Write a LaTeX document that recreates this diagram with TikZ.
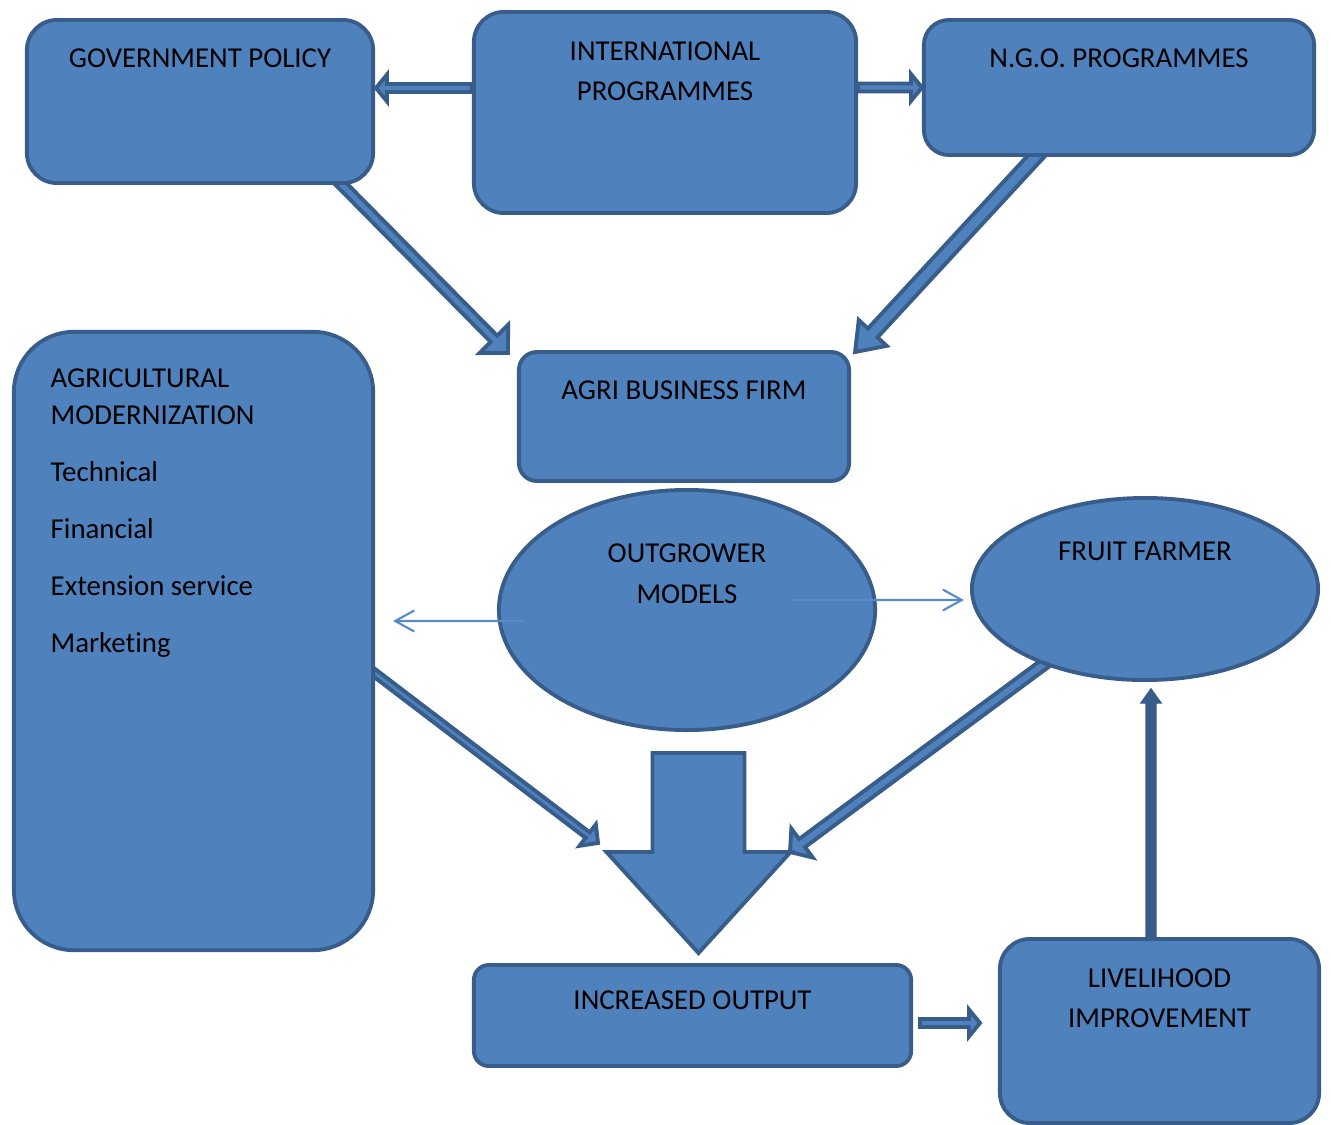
\documentclass[tikz,border=0pt]{standalone}
\usepackage{fontspec}
\setmainfont{Carlito}[Ligatures=NoCommon]
\usetikzlibrary{arrows.meta,calc,backgrounds,shapes.geometric}
\definecolor{boxfill}{HTML}{4F81BD}
\definecolor{boxedge}{HTML}{385D8A}
\definecolor{thinline}{HTML}{5A8AC6}

% block arrow: [options]{from}{to}{half shaft}{half head}{head length}
\newcommand{\fatarrow}[6][]{%
  \coordinate (ba1) at #2;
  \coordinate (ba2) at #3;
  \coordinate (ba3) at ($(ba2)!#6!(ba1)$);
  \draw[blockarrow,#1] ($(ba1)!#4!90:(ba2)$) -- ($(ba3)!#4!90:(ba2)$)
    -- ($(ba3)!#5!90:(ba2)$) -- (ba2) -- ($(ba3)!#5!-90:(ba2)$)
    -- ($(ba3)!#4!-90:(ba2)$) -- ($(ba1)!#4!-90:(ba2)$) -- cycle;}

\begin{document}
\begin{tikzpicture}
  [x=0.01cm,y=-0.01cm,
   box/.style={rectangle,draw=boxedge,fill=boxfill,line width=1.1pt,
               rounded corners=0.3cm,inner sep=0},
   oval/.style={ellipse,draw=boxedge,fill=boxfill,line width=1.1pt,inner sep=0},
   lbl/.style={anchor=north,inner sep=0,align=center,
               font=\fontsize{8.2}{11.3}\selectfont},
   blockarrow/.style={draw=boxedge,fill=boxfill,line width=1.1pt},
   thinarrow/.style={draw=thinline,line width=0.6pt,
                     -{Straight Barb[length=0.19cm,width=0.21cm]}}]
  \useasboundingbox (0,0) rectangle (1331,1124);
  \node[box,minimum width=3.46cm,minimum height=1.63cm,
    label={[lbl,yshift=-0.3cm]north:GOVERNMENT POLICY}] (gov) at (200,101.5) {};
  \node[box,minimum width=3.82cm,minimum height=2.01cm,
    label={[lbl,yshift=-0.31cm]north:INTERNATIONAL\\PROGRAMMES}] (intl) at (665,112.5) {};
  \node[box,minimum width=3.9cm,minimum height=1.35cm,rounded corners=0.25cm,
    label={[lbl,yshift=-0.3cm]north:N.G.O. PROGRAMMES}] (ngo) at (1119,87.5) {};
  \node[box,minimum width=3.59cm,minimum height=6.18cm,rounded corners=0.6cm,
    label={[lbl,anchor=north west,align=left,xshift=0.38cm,yshift=-0.38cm,
      font=\fontsize{8.2}{10.5}\selectfont]north west:AGRICULTURAL\\MODERNIZATION\\[5.7pt]
      Technical\\[5.7pt]Financial\\[5.7pt]Extension service\\[5.7pt]Marketing}]
    (agri) at (193.5,641) {};
  \node[box,minimum width=3.3cm,minimum height=1.29cm,rounded corners=0.18cm,
    label={[lbl,yshift=-0.3cm]north:AGRI BUSINESS FIRM}] (firm) at (684,416.5) {};
  \node[oval,minimum width=3.76cm,minimum height=2.4cm,
    label={[lbl,yshift=-0.55cm,font=\fontsize{8.2}{11.7}\selectfont]north:OUTGROWER\\MODELS}]
    (outg) at (687,610) {};
  \node[oval,minimum width=3.46cm,minimum height=1.82cm,
    label={[lbl,yshift=-0.45cm]north:FRUIT FARMER}] (fruit) at (1145,589) {};
  \node[box,minimum width=4.37cm,minimum height=1.01cm,rounded corners=0.15cm,
    label={[lbl,yshift=-0.27cm]north:INCREASED OUTPUT}] (out) at (692.5,1015.5) {};
  \node[box,minimum width=3.19cm,minimum height=1.84cm,
    label={[lbl,yshift=-0.31cm]north:LIVELIHOOD\\IMPROVEMENT}] (liv) at (1159.5,1031) {};
  \begin{pgfonlayer}{background}
    \fatarrow{([yshift=0.245cm]intl.west)}{([xshift=0.01cm,yshift=0.135cm]gov.east)}{0.04cm}{0.135cm}{0.11cm}
    \fatarrow{([yshift=0.25cm]intl.east)}{(ngo.west)}{0.04cm}{0.135cm}{0.11cm}
    \fatarrow{([xshift=1.37cm,yshift=0.05cm]gov.south)}{([xshift=-0.09cm,yshift=-0.03cm]firm.north west)}{0.045cm}{0.2cm}{0.2cm}
    \fatarrow{([xshift=-0.79cm,yshift=0.05cm]ngo.south)}{([xshift=0.04cm,yshift=-0.02cm]firm.north east)}{0.065cm}{0.19cm}{0.26cm}
    \fatarrow{([xshift=-0.03cm,yshift=-0.3cm]agri.east)}{([xshift=1.26cm,yshift=1.2cm]out.north west)}{0.035cm}{0.135cm}{0.13cm}
    \fatarrow{([xshift=-0.98cm,yshift=0.2cm]fruit.south)}{([xshift=-1.23cm,yshift=1.11cm]out.north east)}{0.05cm}{0.18cm}{0.15cm}
    \fatarrow{([xshift=0.115cm,yshift=-0.21cm]outg.south)}{([xshift=0.06cm,yshift=0.1cm]out.north)}{0.46cm}{0.92cm}{1.01cm}
    \fatarrow{([xshift=0.07cm,yshift=-0.075cm]out.east)}{([xshift=-0.18cm,yshift=0.08cm]liv.west)}{0.04cm}{0.135cm}{0.11cm}
    \fatarrow[fill=boxedge,line width=0.4pt]{([xshift=-0.085cm]liv.north)}{([xshift=0.06cm,yshift=-0.07cm]fruit.south)}{0.05cm}{0.1cm}{0.14cm}
  \end{pgfonlayer}
  \draw[thinarrow] ([xshift=0.28cm,yshift=-0.11cm]outg.west) -- ([xshift=0.18cm,yshift=0.2cm]agri.east);
  \draw[thinarrow] ([xshift=1.05cm,yshift=0.1cm]outg.center) -- ([xshift=-0.06cm,yshift=-0.11cm]fruit.west);
\end{tikzpicture}
\end{document}
